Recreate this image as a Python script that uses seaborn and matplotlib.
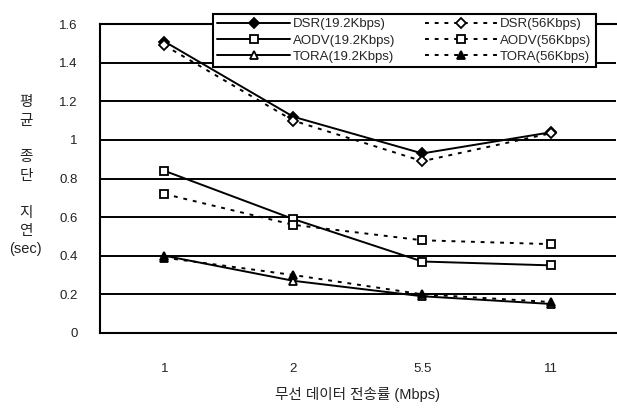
import seaborn as sns
import matplotlib.pyplot as plt
import pandas as pd
import numpy as np

# wireless data rate (Mbps) -> average end-to-end delay (sec)
rates = ['1', '2', '5.5', '11']
dsr_192 = [1.51, 1.12, 0.93, 1.04]
dsr_56 = [1.49, 1.10, 0.89, 1.035]
aodv_192 = [0.84, 0.59, 0.37, 0.35]
aodv_56 = [0.72, 0.56, 0.48, 0.46]
tora_192 = [0.40, 0.27, 0.19, 0.15]
tora_56 = [0.39, 0.30, 0.20, 0.16]

series = [
	('DSR(19.2Kbps)', dsr_192, '-', 'D', 'black'),
	('AODV(19.2Kbps)', aodv_192, '-', 's', 'white'),
	('TORA(19.2Kbps)', tora_192, '-', '^', 'white'),
	('DSR(56Kbps)', dsr_56, (0, (2, 3)), 'D', 'white'),
	('AODV(56Kbps)', aodv_56, (0, (2, 3)), 's', 'white'),
	('TORA(56Kbps)', tora_56, (0, (2, 3)), '^', 'black'),
]

sns.set_theme(style='white')
plt.rcParams['font.family'] = ['Liberation Sans', 'Noto Sans CJK KR']

fig = plt.figure(figsize=(6.17, 4.09), dpi=100)
ax = fig.add_axes([0.162, 0.186, 0.836, 0.755])

pos = np.arange(len(rates))
for name, vals, ls, mk, fc in series:
	df = pd.DataFrame({'x': pos, 'y': vals})
	sns.lineplot(data=df, x='x', y='y', ax=ax, color='black', linewidth=1.4,
		linestyle=ls, marker=mk, markersize=5.5, markerfacecolor=fc,
		markeredgecolor='black', markeredgewidth=1.3, label=name)

ax.set_xlim(-0.5, len(rates) - 0.5)
ax.set_ylim(0, 1.6)
ax.set_yticks(np.arange(0, 1.61, 0.2))
ax.set_yticklabels(['0', '0.2', '0.4', '0.6', '0.8', '1', '1.2', '1.4', '1.6'])
ax.set_xticks(pos)
ax.set_xticklabels(rates)
ax.set_xticks(np.arange(-0.5, len(rates)), minor=True)
ax.tick_params(axis='x', which='major', length=0, pad=22, labelsize=9.5, colors='#222222')
ax.tick_params(axis='x', which='minor', direction='in', length=5, width=1.3, color='black')
ax.tick_params(axis='y', length=0, pad=16, labelsize=9.5, colors='#222222')
ax.grid(axis='y', color='black', linewidth=1.4)
ax.set_axisbelow(True)
for s in ['left', 'bottom', 'top']:
	ax.spines[s].set_color('black')
	ax.spines[s].set_linewidth(1.5)
ax.spines['right'].set_visible(False)

ax.set_xlabel('무선 데이터 전송률 (Mbps)', fontsize=10.5, labelpad=8, color='#222222')
ax.set_ylabel('')
fig.text(0.042, 0.57, '평\n균\n\n종\n단\n\n지\n연\n(sec)', ha='center', va='center',
	fontsize=10.5, linespacing=1.4, color='#222222')

lg = ax.legend(ncol=2, loc='upper left', bbox_to_anchor=(0.334, 0.983, 0.642, 0.0),
	bbox_transform=fig.transFigure, mode='expand', fontsize=9.5, handlelength=5.5,
	frameon=True, fancybox=False, framealpha=1, edgecolor='black',
	borderpad=0.35, labelspacing=0.3, columnspacing=1.2, handletextpad=0.2)
lg.get_frame().set_linewidth(1.5)

fig.savefig('out.png', dpi=100)
